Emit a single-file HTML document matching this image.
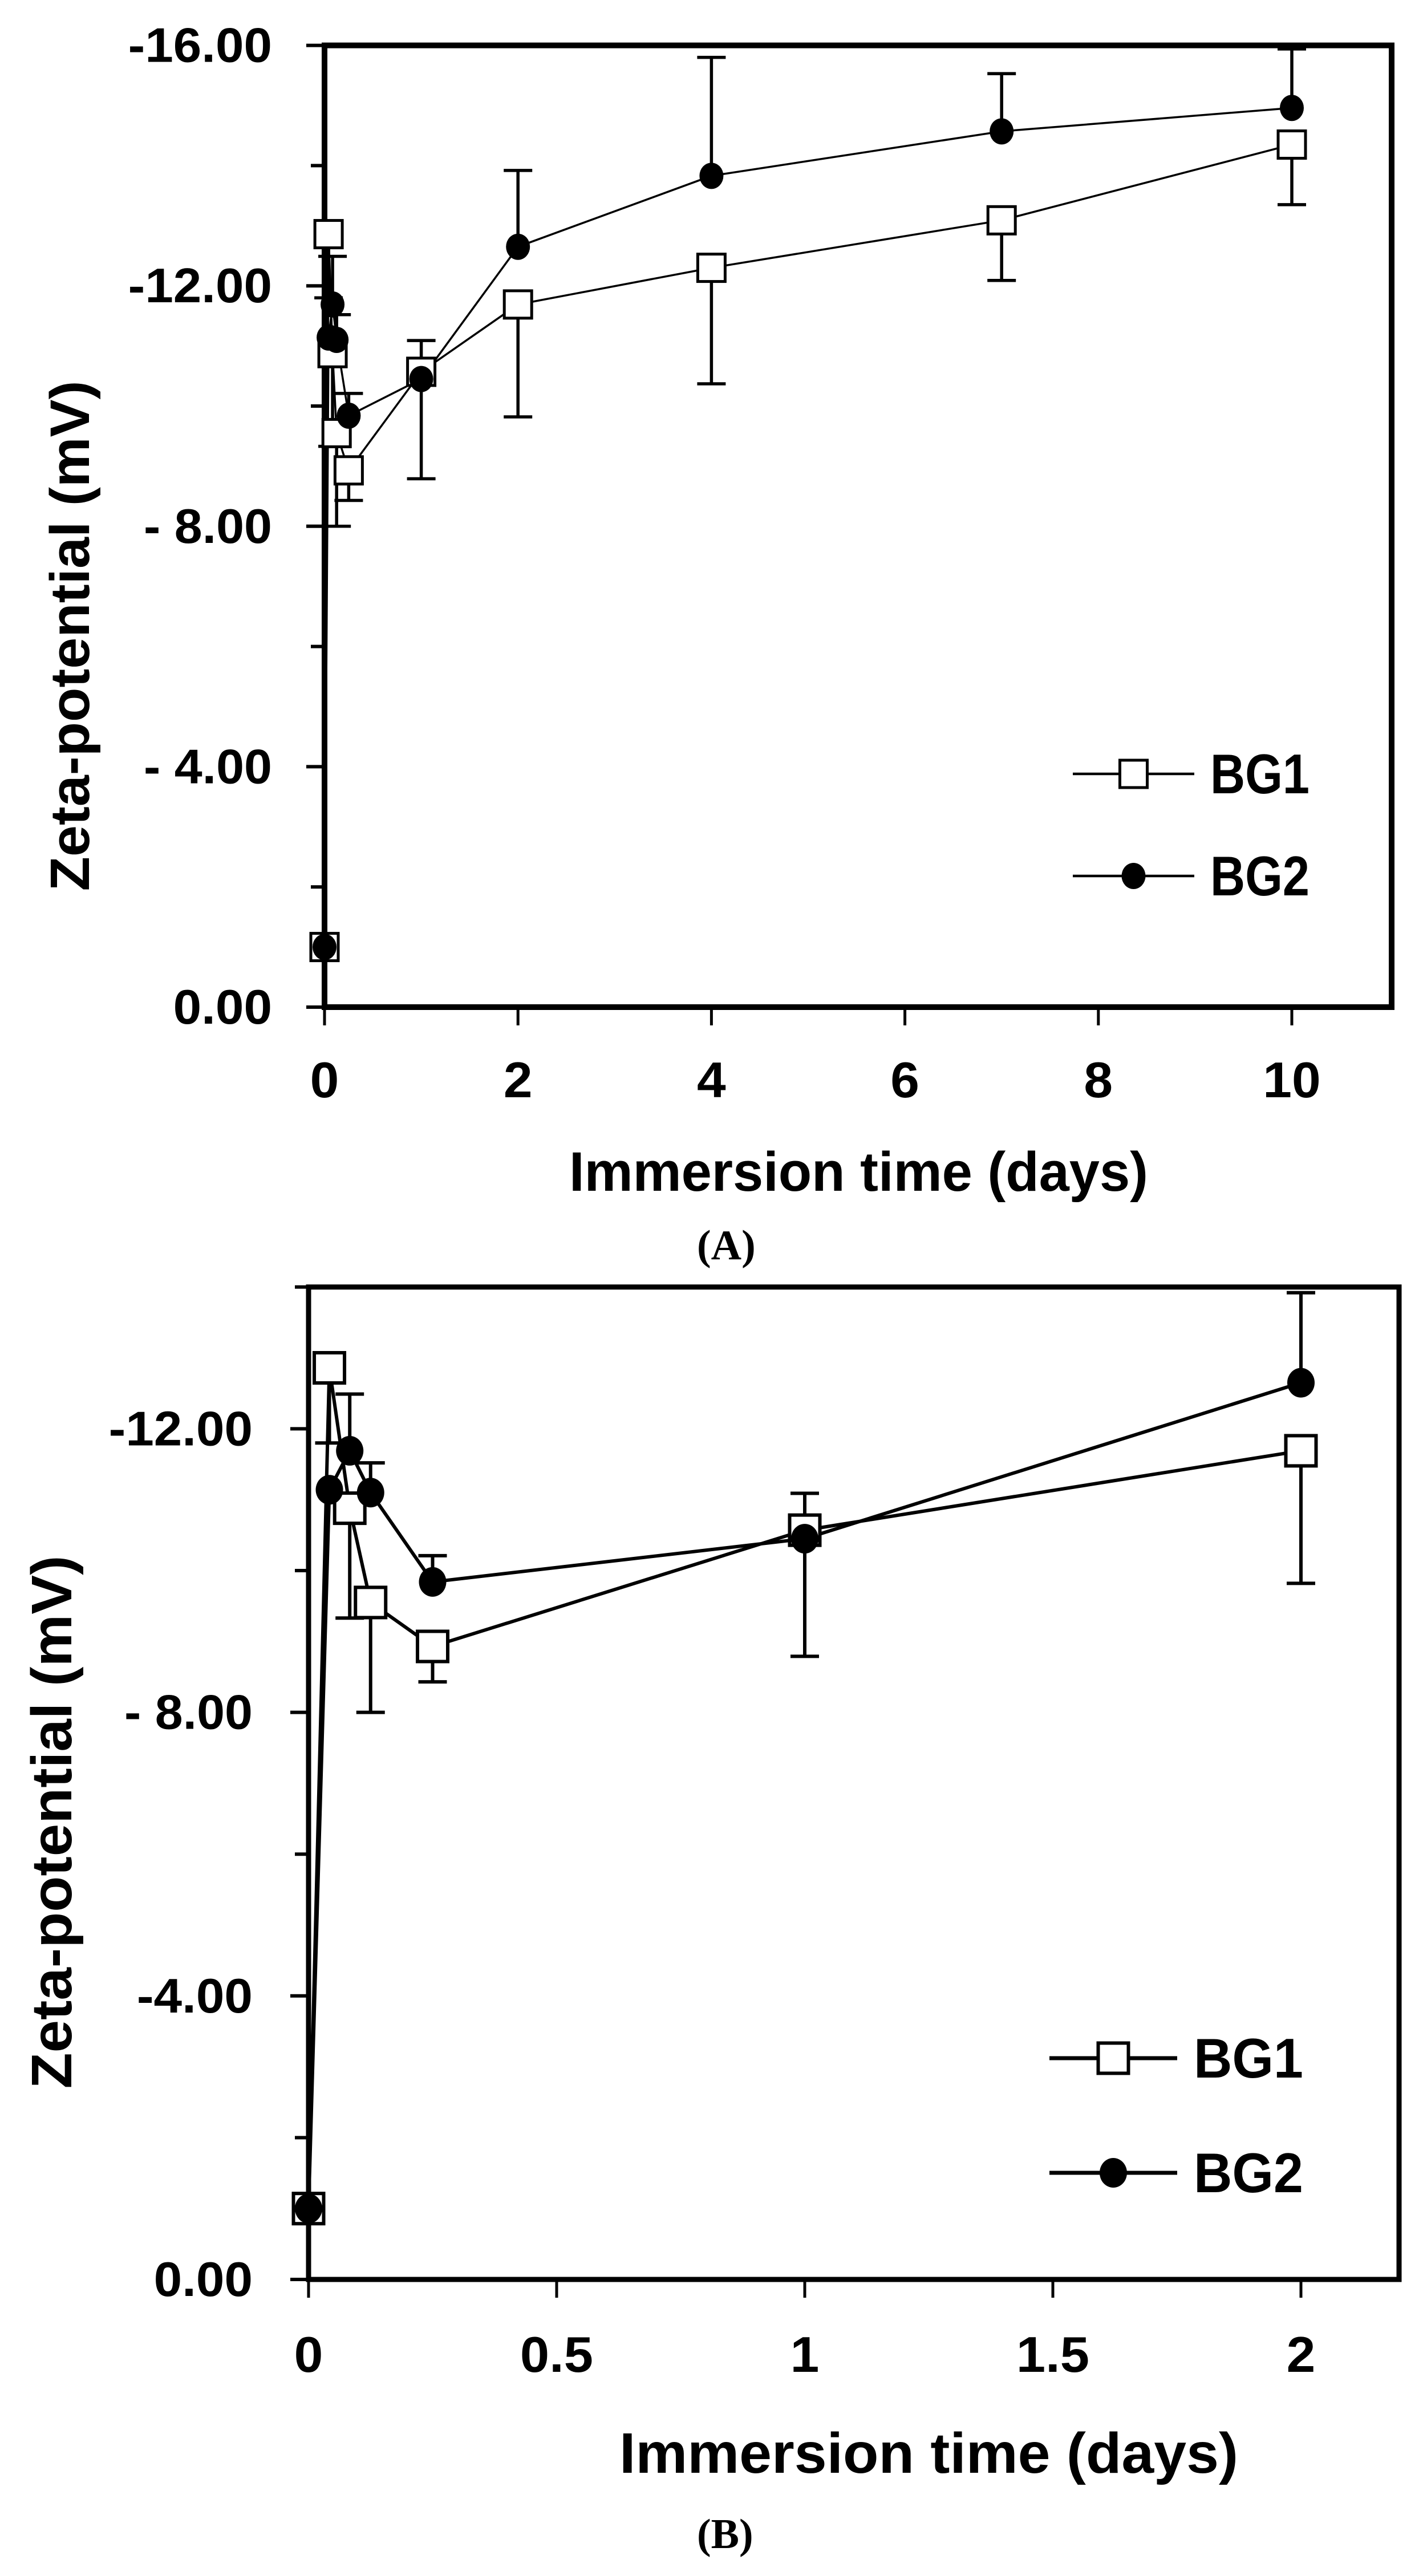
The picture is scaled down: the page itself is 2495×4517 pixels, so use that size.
<!DOCTYPE html>
<html><head><meta charset="utf-8"><style>
html,body{margin:0;padding:0;background:#fff;}
svg{display:block;}
text{font-family:"Liberation Sans",sans-serif;font-weight:bold;fill:#000;}
.cap{font-family:"Liberation Serif",serif;font-weight:bold;}
</style></head><body>
<svg id="fig" width="2495" height="4517" viewBox="0 0 2495 4517" xmlns="http://www.w3.org/2000/svg">
<rect x="0" y="0" width="2495" height="4517" fill="#fff"/>
<g id="chartA"></g>
<g id="chartB"></g>
</svg>
<script>
// ---- data (shared by both panels) ----
const days = [0, 0.042, 0.083, 0.125, 0.25, 1, 2, 4, 7, 10];
const bg1 = [-1.0, -12.86, -10.88, -9.55, -8.93, -10.57, -11.69, -12.3, -13.09, -14.35];
const bg1Err = [0, 1.06, 1.55, 1.55, 0.5, 0.52, 1.87, 1.93, 1.0, 1.0];
const bg1ErrDir = [0, -1, -1, -1, -1, 1, -1, -1, -1, -1];
const bg2 = [-1.0, -11.14, -11.69, -11.1, -9.84, -10.45, -12.65, -13.83, -14.57, -14.96];
const bg2Err = [0, 0, 0.8, 0.42, 0.37, 1.66, 1.27, 1.97, 0.96, 0.98];
const bg2ErrDir = [0, 1, 1, 1, 1, -1, 1, 1, 1, 1];
const seriesNames = ["BG1", "BG2"];
const yTicksA = [-16, -12, -8, -4, 0];
const yTickLabelsA = ["-16.00", "-12.00", "- 8.00", "- 4.00", "0.00"];
const yMinorA = [-14, -10, -6, -2];
const xTicksA = [0, 2, 4, 6, 8, 10];
const xTickLabelsA = ["0", "2", "4", "6", "8", "10"];
const yTicksB = [-12, -8, -4, 0];
const yTickLabelsB = ["-12.00", "- 8.00", "-4.00", "0.00"];
const yMinorB = [-14, -10, -6, -2];
const xTicksB = [0, 0.5, 1, 1.5, 2];
const xTickLabelsB = ["0", "0.5", "1", "1.5", "2"];
const xMaxB = 2;

const NS = "http://www.w3.org/2000/svg";
function mk(parent, tag, attrs) {
  const e = document.createElementNS(NS, tag);
  for (const k in attrs) e.setAttribute(k, attrs[k]);
  parent.appendChild(e);
  return e;
}
function cw(s) {
  let w = 0;
  for (const c of s) {
    if (c >= '0' && c <= '9') w += 0.507;
    else if (c === '.') w += 0.267;
    else if (c === '-') w += 0.306;
    else if (c === ' ') w += 0.226;
    else w += 0.53;
  }
  return w;
}

function drawPanel(g, cfg) {
  const X = v => cfg.x0 + v * cfg.xs;
  const Y = v => cfg.y0 + v * cfg.ys;
  const top = Y(cfg.yTop), bottom = Y(0), left = X(0), right = cfg.right;
  const fr = mk(g, 'rect', {x: left, y: top, width: right - left, height: bottom - top, fill: 'none', stroke: '#000', 'stroke-width': cfg.frameW});
  
  
  cfg.yTicks.forEach((v, i) => {
    const t = mk(g, 'line', {x1: left - 32, x2: left, y1: Y(v), y2: Y(v), stroke: '#000', 'stroke-width': 6});
    
    
    const s = cfg.yTickLabels[i];
    const tx = mk(g, 'text', {x: cfg.yLabelRight, y: Y(v) + 29, 'text-anchor': 'end', 'font-size': 85, textLength: (cw(s) * 97).toFixed(1), lengthAdjust: 'spacingAndGlyphs'});
    tx.textContent = s;
    
    
  });
  cfg.yMinor.forEach(v => {
    const t = mk(g, 'line', {x1: left - 24, x2: left, y1: Y(v), y2: Y(v), stroke: '#000', 'stroke-width': 6});
    
    
  });
  cfg.xTicks.forEach((v, i) => {
    const t = mk(g, 'line', {x1: X(v), x2: X(v), y1: bottom, y2: bottom + 32, stroke: '#000', 'stroke-width': 5});
    
    
    const s = cfg.xTickLabels[i];
    const tx = mk(g, 'text', {x: X(v), y: cfg.xLabelBase, 'text-anchor': 'middle', 'font-size': 88, textLength: (cw(s) * 100).toFixed(1), lengthAdjust: 'spacingAndGlyphs'});
    tx.textContent = s;
    
    
  });
  const yt = mk(g, 'text', {x: 0, y: 0, 'text-anchor': 'middle', 'font-size': cfg.titleFs, transform: `translate(${cfg.yTitleX},${cfg.yTitleY}) rotate(-90)`, textLength: cfg.yTitleLen, lengthAdjust: 'spacingAndGlyphs'});
  yt.textContent = 'Zeta-potential (mV)';
  
  
  const xt = mk(g, 'text', {x: cfg.xTitleX, y: cfg.xTitleY, 'font-size': cfg.titleFs, textLength: cfg.xTitleLen, lengthAdjust: 'spacingAndGlyphs'});
  xt.textContent = 'Immersion time (days)';
  
  
  const cap = mk(g, 'text', {class: 'cap', x: cfg.capX, y: cfg.capY, 'font-size': 74});
  cap.textContent = cfg.caption;
  
  

  const idx = days.map((d, i) => i).filter(i => days[i] <= cfg.xMax);
  const sets = [[bg1, bg1Err, bg1ErrDir], [bg2, bg2Err, bg2ErrDir]];
  sets.forEach(([vals], si) => {
    const pts = idx.map(i => X(days[i]).toFixed(1) + ',' + Y(vals[i]).toFixed(1)).join(' ');
    const pl = mk(g, 'polyline', {points: pts, fill: 'none', stroke: '#000', 'stroke-width': cfg.lineW, 'stroke-linejoin': 'round'});
    
    
  });
  sets.forEach(([vals, errs, dirs], si) => {
    idx.forEach(i => {
      if (!errs[i]) return;
      const cx = X(days[i]);
      const end = vals[i] - dirs[i] * errs[i];
      const eb = mk(g, 'path', {d: `M${cx},${Y(vals[i])}V${Y(end)}M${cx - 25},${Y(end)}h50`, stroke: '#000', 'stroke-width': cfg.errW, fill: 'none'});
      
      
    });
  });
  idx.forEach(i => {
    const cx = X(days[i]), cy = Y(bg1[i]);
    const m = mk(g, 'rect', {x: cx - cfg.sq / 2, y: cy - cfg.sq / 2, width: cfg.sq, height: cfg.sq, fill: '#fff', stroke: '#000', 'stroke-width': cfg.sqW});
    
    
  });
  idx.forEach(i => {
    const m = mk(g, 'ellipse', {cx: X(days[i]), cy: Y(bg2[i]), rx: cfg.cr, ry: cfg.cr + 2, fill: '#000'});
    
    
  });
  cfg.legY.forEach((ly, li) => {
    const lg = mk(g, 'g', {});
    
    
    mk(lg, 'line', {x1: cfg.legX1, x2: cfg.legX2, y1: ly, y2: ly, stroke: '#000', 'stroke-width': cfg.lineW + 1});
    const mx = (cfg.legX1 + cfg.legX2) / 2;
    if (li === 0) mk(lg, 'rect', {x: mx - cfg.sq / 2, y: ly - cfg.sq / 2, width: cfg.sq, height: cfg.sq, fill: '#fff', stroke: '#000', 'stroke-width': cfg.sqW});
    else mk(lg, 'ellipse', {cx: mx, cy: ly, rx: cfg.cr, ry: cfg.cr + 2, fill: '#000'});
    const t = mk(lg, 'text', {x: cfg.legTextX, y: ly + 34, 'font-size': 98, textLength: cfg.legTextLen, lengthAdjust: 'spacingAndGlyphs'});
    t.textContent = seriesNames[li];
  });
}

drawPanel(document.getElementById('chartA'), {
  x0: 569, xs: 169.6, y0: 1766, ys: 105.4, yTop: -16, right: 2440, frameW: 10,
  yTicks: yTicksA, yTickLabels: yTickLabelsA, yMinor: yMinorA, yLabelRight: 477,
  xTicks: xTicksA, xTickLabels: xTickLabelsA, xLabelBase: 1924, xMax: 10,
  titleFs: 97, yTitleX: 156, yTitleY: 1115, yTitleLen: 895,
  xTitleX: 998, xTitleY: 2088, xTitleLen: 1015,
  caption: '(A)', capX: 1222, capY: 2208,
  lineW: 3.5, errW: 5.5, sq: 48, sqW: 5, cr: 21,
  legY: [1357, 1536], legX1: 1881, legX2: 2094, legTextX: 2122, legTextLen: 174
});
drawPanel(document.getElementById('chartB'), {
  x0: 541, xs: 870, y0: 3997, ys: 124.3, yTop: -14, right: 2453, frameW: 9,
  yTicks: yTicksB, yTickLabels: yTickLabelsB, yMinor: yMinorB, yLabelRight: 443,
  xTicks: xTicksB, xTickLabels: xTickLabelsB, xLabelBase: 4159, xMax: xMaxB,
  titleFs: 100, yTitleX: 125, yTitleY: 3195, yTitleLen: 935,
  xTitleX: 1086, xTitleY: 4336, xTitleLen: 1085,
  caption: '(B)', capX: 1222, capY: 4468,
  lineW: 6, errW: 6, sq: 53, sqW: 6, cr: 24,
  legY: [3609, 3810], legX1: 1840, legX2: 2064, legTextX: 2093, legTextLen: 192
});
</script>
</body></html>
